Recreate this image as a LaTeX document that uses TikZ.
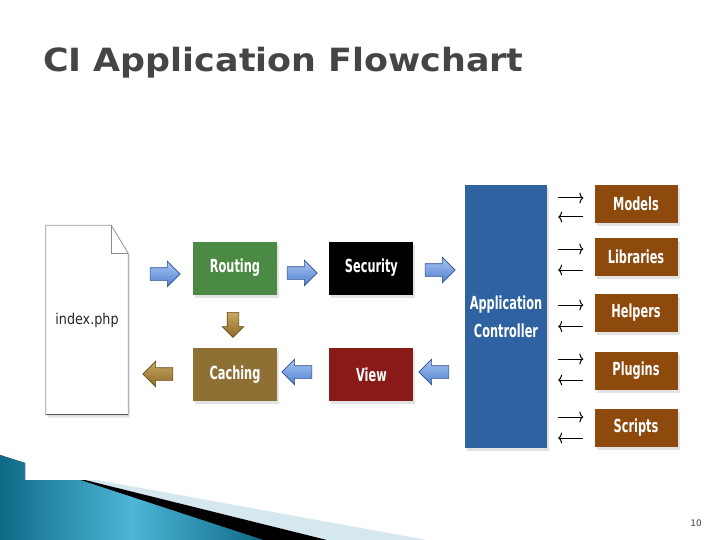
\documentclass[tikz,border=0pt]{standalone}
\usepackage{fontspec}
\setmainfont{DejaVu Sans}
\newfontfamily\titlefont[FakeStretch=1.09]{DejaVu Sans Bold}
\newfontfamily\boxfont[FakeStretch=0.63]{DejaVu Sans Bold}
\newfontfamily\docfont[FakeStretch=0.85]{DejaVu Sans}
\usetikzlibrary{arrows.meta,positioning,calc,shapes.arrows,shadows,backgrounds}
\definecolor{TitleGray}{HTML}{454545}
\definecolor{RouteGreen}{HTML}{4B8A45}
\definecolor{CacheGold}{HTML}{8E7035}
\definecolor{ViewRed}{HTML}{8A1A18}
\definecolor{CtrlBlue}{HTML}{2E62A0}
\definecolor{LibBrown}{HTML}{8E4A0C}
\definecolor{ArrowBlue}{HTML}{4F7FD0}
\definecolor{ArrowBlueLight}{HTML}{A9C6F2}
\definecolor{ArrowBlueEdge}{HTML}{2B4F8C}
\definecolor{ArrowGold}{HTML}{8C6A26}
\definecolor{ArrowGoldLight}{HTML}{C9A862}
\definecolor{ArrowGoldEdge}{HTML}{634817}
\definecolor{TealDark}{HTML}{0E6A87}
\definecolor{TealLight}{HTML}{4EB6D6}
\definecolor{StripeLight}{HTML}{D5E8EF}
\tikzset{>=Stealth,
 box/.style={minimum width=84pt,minimum height=53pt,inner sep=0pt,text=white,align=center,
  font=\boxfont\fontsize{18}{28}\selectfont,
  drop shadow={shadow xshift=2pt,shadow yshift=-3pt,opacity=0.22}},
 libbox/.style={box,fill=LibBrown,minimum width=83pt,minimum height=38pt},
 docnode/.style={minimum width=82pt,minimum height=189pt,inner sep=0pt,
  font=\docfont\fontsize{15}{18}\selectfont,text=black!85},
 bluearrow/.style={single arrow,draw=ArrowBlueEdge,line width=0.6pt,top color=ArrowBlueLight,
  bottom color=ArrowBlue,minimum height=30pt,inner xsep=0pt,inner ysep=6pt,
  single arrow head extend=6.5pt},
 goldarrow/.style={bluearrow,draw=ArrowGoldEdge,top color=ArrowGoldLight,bottom color=ArrowGold},
 ctlarrow/.style={-{To[length=4pt,width=11pt]},line width=1pt,black,
  shorten <=11pt,shorten >=11pt}}

\begin{document}
\begin{tikzpicture}[x=1pt,y=-1pt]
\useasboundingbox (0,0) rectangle (720,540);
% title
\node[anchor=base west,inner sep=0pt,text=TitleGray,font=\titlefont\fontsize{32}{36}\selectfont]
 (title) at (43,72) {CI Application Flowchart};
% entry page
\node[docnode] (doc) at (87,320) {index.php};
\begin{scope}[on background layer]
\fill[white] (0,0) rectangle (720,540);
\filldraw[fill=white,draw=black!40,line width=0.8pt,
 drop shadow={shadow xshift=2pt,shadow yshift=-3pt,opacity=0.2}]
 (doc.north west) -- ([xshift=-17pt]doc.north east) -- ([yshift=-28pt]doc.north east)
 -- (doc.south east) -- (doc.south west) -- cycle;
\draw[black!45,line width=0.8pt] ([xshift=-17pt]doc.north east) |- ([yshift=-28pt]doc.north east);
\draw[black!65,line width=1.2pt] (doc.south west) -- (doc.south east);
\end{scope}
% processing blocks
\node[box,fill=RouteGreen] (rout) at (235,268) {Routing};
\node[box,fill=black,right=52pt of rout] (sec) {Security};
\node[box,fill=CacheGold,below=53pt of rout] (cach) {Caching};
\node[box,fill=ViewRed,below=53pt of sec] (view) {View};
\node[box,fill=CtrlBlue,minimum width=82pt,minimum height=263pt] (ctrl) at (506,316.5)
 {Application\\Controller};
% block arrows
\node[bluearrow] (a1) at (162,274) {};
\node[bluearrow] (a2) at (299,273) {};
\node[bluearrow] (a3) at (437,270) {};
\node[bluearrow,shape border rotate=180] (a4) at (300,372) {};
\node[bluearrow,shape border rotate=180] (a5) at (437,372) {};
\node[goldarrow,shape border rotate=180] (a6) at (161,374) {};
\node[goldarrow,rotate=-90,minimum height=25pt,inner ysep=5.5pt,single arrow head extend=5pt]
 (a7) at (233,322) {};
% resources
\node[libbox] (models) at (636,204) {Models};
\node[libbox] (libs) at (636,257) {Libraries};
\node[libbox] (helpers) at (636,312.5) {Helpers};
\node[libbox] (plugins) at (636,371) {Plugins};
\node[libbox] (scripts) at (636,428) {Scripts};
\foreach \b/\up/\dn in {models/6/13,libs/8/13,helpers/7.5/14,plugins/12/9,scripts/11/10}{
 \draw[ctlarrow] ($(ctrl.east |- \b.west)+(0,-\up)$) -- ($(\b.west)+(0,-\up)$);
 \draw[ctlarrow] ($(\b.west)+(0,\dn)$) -- ($(ctrl.east |- \b.west)+(0,\dn)$);
}
% corner decoration
\fill[StripeLight] (80,480) -- (97,480) -- (427,540) -- (263,540) -- cycle;
\fill[black] (80,480) -- (85,480) -- (327,540) -- (263,540) -- cycle;
\fill[left color=TealDark,right color=TealDark,middle color=TealLight]
 (0,455) -- (25,463) -- (25,480) -- (80,480) -- (263,540) -- (0,540) -- cycle;
\node[text=black!75,font=\fontsize{9}{10}\selectfont] (pnum) at (696,523) {10};
\end{tikzpicture}
\end{document}
